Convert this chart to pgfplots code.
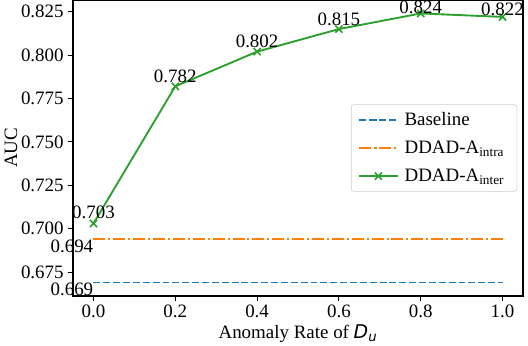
\documentclass[border=0pt]{standalone}
\usepackage{fontspec}
\setmainfont{Liberation Serif}
\newfontfamily\djv{DejaVu Sans}
\usepackage{pgfplots}
\usepackage{pgfplotstable}
\pgfplotsset{compat=1.18}
\definecolor{mblue}{HTML}{1F77B4}
\definecolor{morange}{HTML}{FF7F0E}
\definecolor{mgreen}{HTML}{2CA02C}
\newcommand{\fs}{\fontsize{14.2}{17}\selectfont}
\pgfplotstableread{
rate auc dy
0.0 0.703 3.6
0.2 0.782 2.8
0.4 0.802 2.8
0.6 0.815 2.4
0.8 0.824 0.2
1.0 0.822 1.0
}\inter
\begin{document}
\begin{tikzpicture}
\begin{axis}[
  scale only axis,
  width=337.5pt, height=222pt,
  xmin=-0.05, xmax=1.05,
  ymin=0.66125, ymax=0.83175,
  clip=false,
  xtick={0,0.2,0.4,0.6,0.8,1.0},
  ytick={0.675,0.700,0.725,0.750,0.775,0.800,0.825},
  xticklabel style={/pgf/number format/.cd,fixed,fixed zerofill,precision=1},
  yticklabel style={/pgf/number format/.cd,fixed,fixed zerofill,precision=3},
  /pgf/number format/assume math mode=true,
  tick label style={font=\fs},
  label style={font=\fs},
  tick align=outside,
  tick pos=left,
  major tick length=3.5pt,
  axis line style={line width=0.8pt},
  every tick/.style={black, line width=0.8pt},
  xlabel={Anomaly Rate of {\djv\itshape D}\textsubscript{\djv\itshape u}},
  ylabel={AUC},
  xlabel style={yshift=2pt},
  ylabel style={yshift=-4pt},
  legend style={at={(0.987,0.5)}, anchor=east, font=\fs,
    draw=black!20, rounded corners=2pt, fill=white,
    inner xsep=5pt, inner ysep=4pt,
    row sep=6pt},
  legend cell align=left,
  legend image code/.code={\draw[mark repeat=2,mark phase=2,#1]
    plot coordinates {(0pt,0pt)(14.5pt,0pt)(29pt,0pt)};},
  every axis legend/.append style={nodes={inner xsep=4.5pt}},
]
\addplot[mblue, line width=1.4pt, dash pattern=on 5.2pt off 2.2pt]
  coordinates {(0,0.669) (1,0.669)};
\addlegendentry{Baseline}
\addplot[morange, line width=1.4pt, dash pattern=on 9pt off 2.2pt on 1.5pt off 2.2pt]
  coordinates {(0,0.694) (1,0.694)};
\addlegendentry{DDAD-A\textsubscript{intra}}
\addplot[mgreen, line width=1.4pt, mark=x, mark size=3.8pt,
  mark options={line width=1.2pt},
  point meta=y,
  visualization depends on={\thisrow{dy} \as \dy},
  nodes near coords={\pgfmathprintnumber[fixed,fixed zerofill,precision=3,assume math mode=true]{\pgfplotspointmeta}},
  nodes near coords style={anchor=base, yshift=\dy pt, inner sep=0pt, font=\fs, text=black}]
  table[x=rate, y=auc] {\inter};
\addlegendentry{DDAD-A\textsubscript{inter}}
\node[anchor=north east, inner sep=0pt, font=\fs] at (axis cs:0,0.694) {0.694};
\node[anchor=north east, inner sep=0pt, font=\fs] at (axis cs:0,0.669) {0.669};
\coordinate (O) at (rel axis cs:0,0);
\end{axis}
\pgfresetboundingbox
\path (O) ++(-54.75pt,-37.5pt) rectangle ++(396pt,259.5pt);
\end{tikzpicture}
\end{document}
